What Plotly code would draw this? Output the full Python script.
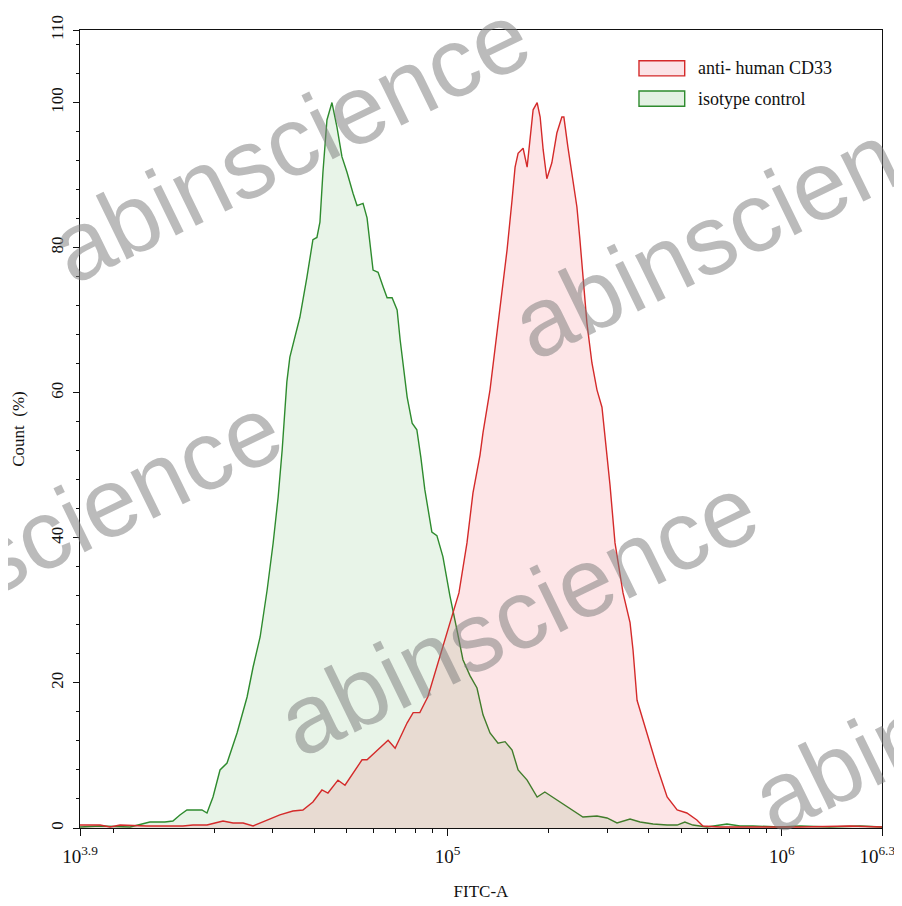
import plotly.graph_objects as go

# ---- data (FITC-A as log10 value, Count %) ----
iso_log = [3.900, 3.960, 4.050, 4.109, 4.154, 4.178, 4.199, 4.220, 4.265, 4.280, 4.298, 4.319, 4.340,
           4.370, 4.400, 4.418, 4.439, 4.460, 4.478, 4.493, 4.505, 4.519, 4.528, 4.543, 4.558, 4.579,
           4.597, 4.609, 4.618, 4.627, 4.639, 4.654, 4.669, 4.684, 4.699, 4.717, 4.729, 4.747, 4.759,
           4.777, 4.792, 4.807, 4.819, 4.834, 4.849, 4.858, 4.879, 4.894, 4.908, 4.920, 4.932, 4.953,
           4.968, 4.986, 5.007, 5.028, 5.046, 5.067, 5.088, 5.106, 5.127, 5.151, 5.172, 5.193, 5.211,
           5.238, 5.268, 5.291, 5.327, 5.366, 5.405, 5.447, 5.477, 5.507, 5.546, 5.576, 5.615, 5.657,
           5.687, 5.710, 5.734, 5.776, 5.836, 5.875, 5.914, 5.995, 6.055, 6.144, 6.234, 6.300]
iso_count = [0.14, 0.28, 0.14, 0.83, 0.83, 0.96, 1.8, 2.48, 2.48, 2.07, 4.27, 8.0, 8.96,
             13.1, 18.06, 22.19, 26.33, 32.81, 39.29, 45.63, 52.1, 61.5, 64.9, 67.7, 70.4, 75.9,
             81.1, 81.4, 83.5, 90.4, 97.6, 100.0, 96.6, 92.5, 90.4, 87.5, 85.8, 86.1, 84.1,
             76.9, 76.6, 74.6, 73.1, 73.1, 71.4, 67.3, 59.4, 55.8, 54.9, 51.1, 46.6, 40.8,
             40.3, 37.4, 32.0, 27.3, 23.2, 21.0, 19.3, 15.6, 13.1, 11.7, 11.9, 10.75, 8.0,
             6.6, 4.27, 4.96, 3.86, 2.76, 1.52, 1.65, 1.38, 0.69, 1.24, 0.83, 0.55, 0.41,
             0.41, 0.83, 0.41, 0.14, 0.55, 0.28, 0.28, 0.14, 0.28, 0.14, 0.28, 0.14]

cd33_log = [3.900, 3.960, 3.990, 4.020, 4.100, 4.154, 4.208, 4.238, 4.280, 4.328, 4.358, 4.388, 4.418,
            4.460, 4.498, 4.537, 4.567, 4.597, 4.624, 4.642, 4.672, 4.693, 4.717, 4.744, 4.759, 4.789,
            4.822, 4.843, 4.879, 4.897, 4.917, 4.941, 4.968, 4.992, 5.013, 5.034, 5.058, 5.076, 5.097,
            5.106, 5.127, 5.157, 5.178, 5.193, 5.202, 5.211, 5.226, 5.238, 5.247, 5.256, 5.268, 5.277,
            5.286, 5.297, 5.312, 5.327, 5.342, 5.348, 5.360, 5.375, 5.387, 5.396, 5.405, 5.417, 5.432,
            5.447, 5.462, 5.477, 5.486, 5.501, 5.525, 5.546, 5.555, 5.567, 5.597, 5.627, 5.657, 5.687,
            5.716, 5.746, 5.764, 5.815, 5.905, 6.055, 6.204, 6.300]
cd33_count = [0.41, 0.41, 0.14, 0.41, 0.28, 0.28, 0.28, 0.41, 0.41, 0.96, 0.69, 0.69, 0.28,
              1.1, 1.8, 2.34, 2.48, 3.58, 5.24, 4.82, 6.6, 5.9, 7.6, 9.4, 9.4, 10.75,
              12.1, 11.0, 14.5, 15.9, 15.9, 18.1, 22.2, 25.9, 28.9, 32.4, 39.3, 46.2, 51.4,
              54.5, 60.4, 71.4, 79.7, 86.6, 91.1, 93.0, 93.7, 91.1, 95.3, 99.0, 100.0, 98.0,
              93.5, 89.5, 91.7, 95.8, 98.0, 98.0, 93.9, 88.9, 85.6, 81.1, 76.0, 69.6, 64.1,
              60.4, 58.0, 51.1, 47.3, 39.3, 32.4, 28.3, 24.5, 17.6, 13.1, 8.4, 4.27, 2.48,
              2.07, 1.1, 0.28, 0.14, 0.14, 0.14, 0.28, 0.14]

series_names = ["anti- human CD33", "isotype control"]
x_tick_exp = [3.9, 5, 6, 6.3]
x_tick_text = ["10<sup>3.9</sup>", "10<sup>5</sup>", "10<sup>6</sup>", "10<sup>6.3</sup>&nbsp;&nbsp;"]
x_minor_vals = [1e4, 2e4, 3e4, 4e4, 5e4, 6e4, 7e4, 8e4, 9e4,
                2e5, 3e5, 4e5, 5e5, 6e5, 7e5, 8e5, 9e5, 2e6]
y_tick_vals = [0, 20, 40, 60, 80, 100, 110]

RED = "#d42a2a"
GREEN = "#2e8b2e"
RED_FILL = "rgba(240,0,20,0.10)"
GREEN_FILL = "rgba(0,128,0,0.09)"
FONT = "Liberation Serif"

fig = go.Figure()
fig.add_trace(go.Scatter(x=[10 ** v for v in iso_log], y=iso_count, mode="lines",
                         line=dict(color=GREEN, width=1.4), fill="tozeroy",
                         fillcolor=GREEN_FILL, name=series_names[1], showlegend=False))
fig.add_trace(go.Scatter(x=[10 ** v for v in cd33_log], y=cd33_count, mode="lines",
                         line=dict(color=RED, width=1.4), fill="tozeroy",
                         fillcolor=RED_FILL, name=series_names[0], showlegend=False))

# legend drawn manually
shapes = []
annotations = []
leg = [(series_names[0], RED, "rgba(250,215,220,0.7)", 0.952),
       (series_names[1], GREEN, "rgba(215,235,215,0.7)", 0.914)]
for name, lc, fc, yc in leg:
    shapes.append(dict(type="rect", xref="paper", yref="paper", x0=0.697, x1=0.754,
                       y0=yc - 0.0095, y1=yc + 0.0095, line=dict(color=lc, width=1.4),
                       fillcolor=fc))
    annotations.append(dict(xref="paper", yref="paper", x=0.768, y=yc, text=name,
                            showarrow=False, xanchor="left", yanchor="middle",
                            font=dict(family=FONT, size=18, color="#111")))

# watermarks
wm_font = dict(family="Liberation Sans", size=98, color="rgba(125,125,125,0.52)")
for cx, cy in [(290, 142), (752, 218), (42, 535), (518, 615), (992, 692)]:
    annotations.append(dict(xref="paper", yref="paper",
                            x=(cx - 80) / 802, y=(828 - cy) / 798,
                            text="abinscience", showarrow=False, textangle=-26,
                            xanchor="center", yanchor="middle", font=wm_font))

fig.update_layout(
    width=902, height=906,
    margin=dict(l=72, r=28, t=22, b=86, autoexpand=False),
    paper_bgcolor="white", plot_bgcolor="white",
    font=dict(family=FONT, size=17, color="#111"),
    shapes=shapes, annotations=annotations,
    showlegend=False,
)
fig.update_xaxes(
    type="log", range=[3.9, 6.3], automargin=False,
    tickmode="array", tickvals=[10 ** v for v in x_tick_exp], ticktext=x_tick_text,
    ticks="outside", ticklen=7, tickwidth=1.2, tickcolor="#111", ticklabelstandoff=4,
    minor=dict(tickmode="array", tickvals=x_minor_vals, ticks="outside", ticklen=4,
               tickwidth=1, tickcolor="#111", showgrid=False),
    showline=True, linecolor="#111", linewidth=1.3, mirror=True,
    showgrid=False, zeroline=False,
    tickfont=dict(family=FONT, size=19),
    title=dict(text="FITC-A", font=dict(family=FONT, size=17), standoff=19),
)
fig.update_yaxes(
    range=[0, 110], tickmode="array", tickvals=y_tick_vals, automargin=False,
    tickangle=-90, ticklabelstandoff=3,
    ticks="outside", ticklen=6, tickwidth=1.2, tickcolor="#111",
    minor=dict(tick0=0, dtick=4, ticks="outside", ticklen=3, tickwidth=1,
               tickcolor="#111", showgrid=False),
    showline=True, linecolor="#111", linewidth=1.3, mirror=True,
    showgrid=False, zeroline=False,
    tickfont=dict(family=FONT, size=17),
    title=dict(text="Count  (%)", font=dict(family=FONT, size=17), standoff=19),
)

fig.write_html("out.html")
